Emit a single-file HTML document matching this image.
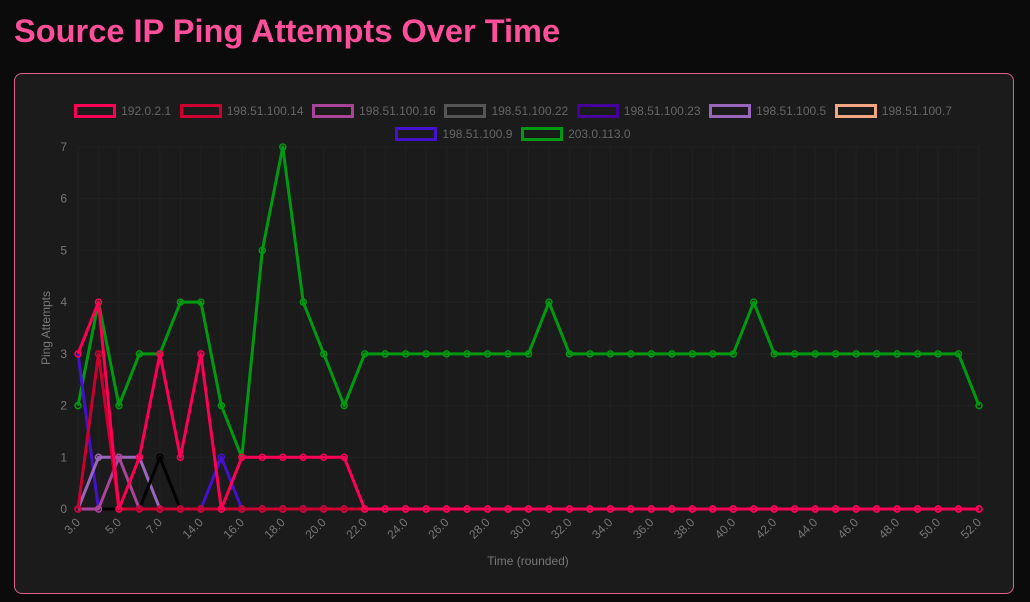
<!DOCTYPE html>
<html><head><meta charset="utf-8"><style>
body{margin:0;background:#0b0b0b;width:1030px;height:602px;overflow:hidden;font-family:"Liberation Sans",sans-serif}
h1{position:absolute;left:14px;top:12px;margin:0;font-size:32.6px;font-weight:bold;color:#ff4f9a}
#card{position:absolute;left:14px;top:73px;width:998px;height:519px;background:#1b1b1b;border:1px solid #e0608f;border-radius:8px}
#legend{position:absolute;left:40px;top:104px;width:946px;display:flex;flex-wrap:wrap;justify-content:center;row-gap:9px}
.li{display:flex;align-items:center;margin:0 4.3px;font-size:12px;color:#666}
.bx{width:36px;height:8px;border:3px solid;margin-right:5px;background:#1b1b1b}
svg{position:absolute;left:0;top:0}
</style></head><body>
<h1>Source IP Ping Attempts Over Time</h1>
<div id="card"></div>
<div id="legend"></div>
<svg id="chart" width="1030" height="602"></svg>
<script>
const categories=["3.0","4.0","5.0","6.0","7.0","8.0","14.0","15.0","16.0","17.0","18.0","19.0","20.0","21.0","22.0","23.0","24.0","25.0","26.0","27.0","28.0","29.0","30.0","31.0","32.0","33.0","34.0","35.0","36.0","37.0","38.0","39.0","40.0","41.0","42.0","43.0","44.0","45.0","46.0","47.0","48.0","49.0","50.0","51.0","52.0"];
const seriesNames=["192.0.2.1","198.51.100.14","198.51.100.16","198.51.100.22","198.51.100.23","198.51.100.5","198.51.100.7","198.51.100.9","203.0.113.0"];
const seriesColors=["#ff0055","#cc0030","#aa4499","#555555","#440099","#9966bb","#f4a582","#4411cc","#009911"];
const lineColors=["#ff0055","#cc0030","#aa4499","#000000","#440099","#9966bb","#f4a582","#4411cc","#009911"];
const yTicks=[0,1,2,3,4,5,6,7];
const Z=n=>new Array(n).fill(0);
const s_192_0_2_1=[3,4,0,1,3,1,3,0,1,1,1,1,1,1,0].concat(Z(30));
const s_14=[0,3,0].concat(Z(42));
const s_16=[0,0,1,0].concat(Z(41));
const s_22=[0,0,0,0,1,0].concat(Z(39));
const s_23=Z(45);
const s_5=[0,1,1,1,0].concat(Z(40));
const s_7=Z(45);
const s_9=[3,0,0,0,0,0,0,1,0].concat(Z(36));
const s_203=[2,4,2,3,3,4,4,2,1,5,7,4,3,2,3,3,3,3,3,3,3,3,3,4,3,3,3,3,3,3,3,3,3,4,3,3,3,3,3,3,3,3,3,3,2];
const seriesValues=[s_192_0_2_1,s_14,s_16,s_22,s_23,s_5,s_7,s_9,s_203];
const drawOrder=[8,7,6,5,4,3,2,1,0];
const L=78,R=979,Y0=509,Y7=147;
const xs=i=>L+i*(R-L)/(categories.length-1);
const ys=v=>Y0-v*(Y0-Y7)/7;
const svg=document.getElementById('chart');const NS='http://www.w3.org/2000/svg';
function mk(t,a,p){const e=document.createElementNS(NS,t);for(const k in a)e.setAttribute(k,a[k]);(p||svg).appendChild(e);return e;}
yTicks.forEach(v=>{
 const g=mk('line',{x1:L,x2:R,y1:ys(v),y2:ys(v),stroke:'#222','stroke-width':1});
 
 
 const t=mk('text',{x:67,y:ys(v)+4,'text-anchor':'end','font-size':12,fill:'#777'});t.textContent=v;
 
 
});
categories.forEach((c,i)=>{
 const g=mk('line',{x1:xs(i),x2:xs(i),y1:Y7,y2:Y0,stroke:'#212121','stroke-width':1});
 
 
 if(i%2===0){const x=xs(i)+3,y=523;
  const t=mk('text',{x:x,y:y,'text-anchor':'end','font-size':12,fill:'#777',transform:`rotate(-45 ${x} ${y})`});t.textContent=c;
  
  }
});
const xt=mk('text',{x:528,y:565,'text-anchor':'middle','font-size':12,fill:'#777'});xt.textContent='Time (rounded)';


const yt=mk('text',{x:50,y:328,'text-anchor':'middle','font-size':12,fill:'#777',transform:'rotate(-90 50 328)'});yt.textContent='Ping Attempts';


drawOrder.forEach(s=>{
 const vals=seriesValues[s];
 const p=mk('polyline',{points:vals.map((v,i)=>xs(i)+','+ys(v)).join(' '),fill:'none',stroke:lineColors[s],'stroke-width':3,'stroke-linejoin':'round'});
 
 
 vals.forEach((v,i)=>{const c=mk('circle',{cx:xs(i),cy:ys(v),r:3,fill:'none',stroke:lineColors[s],'stroke-width':1.5});
  
  });
});
const lg=document.getElementById('legend');
seriesNames.forEach((n,i)=>{
 const d=document.createElement('div');d.className='li';
 
 
 d.innerHTML=`<span class="bx" style="border-color:${seriesColors[i]}"></span>${n}`;
 lg.appendChild(d);
});
</script>
</body></html>
